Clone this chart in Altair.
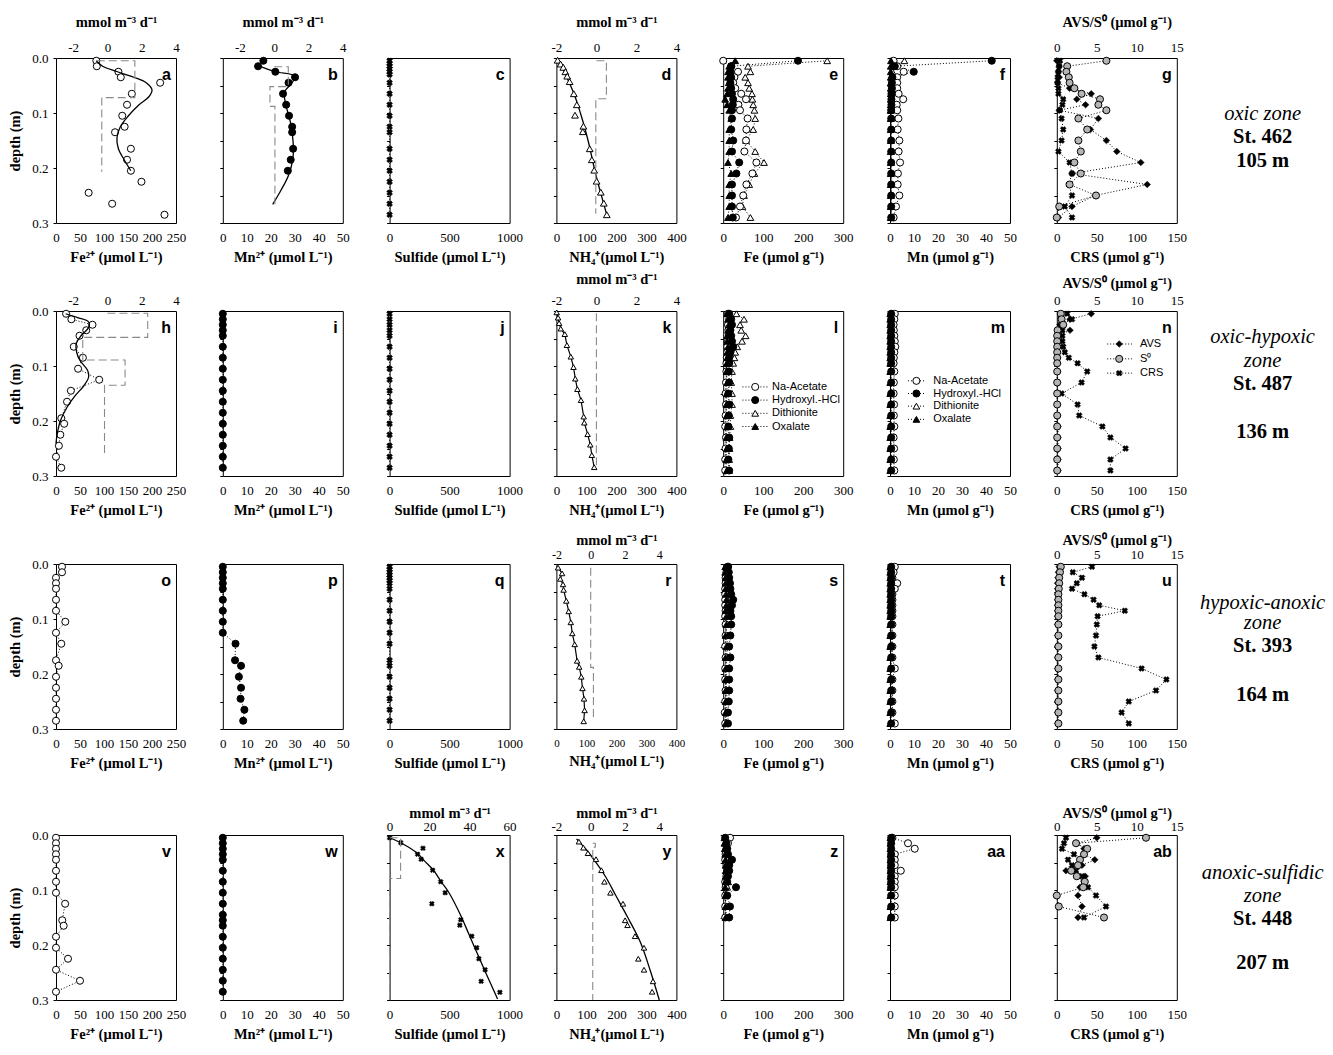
import altair as alt
import pandas as pd

SERIF = "Liberation Serif"
SANS = "Liberation Sans"

# ---------------- depth grids (m) ----------------
D17 = [0.005, 0.015, 0.025, 0.035, 0.045, 0.065, 0.085, 0.105, 0.125, 0.145, 0.165, 0.185, 0.205, 0.225, 0.245, 0.265, 0.285]
D20 = [0.005, 0.015, 0.025, 0.035, 0.045, 0.055, 0.065, 0.075, 0.085, 0.095, 0.11, 0.13, 0.15, 0.17, 0.19, 0.21, 0.23, 0.25, 0.27, 0.29]
D13 = [0.005, 0.015, 0.025, 0.035, 0.045, 0.055, 0.065, 0.075, 0.085, 0.095, 0.11, 0.13, 0.15]
SULF_D = [0.005, 0.01, 0.015, 0.02, 0.025, 0.03, 0.045, 0.065, 0.085, 0.105, 0.125, 0.135, 0.165, 0.185, 0.205, 0.225, 0.245, 0.265, 0.285]
SULF_D3 = [0.005, 0.01, 0.015, 0.02, 0.025, 0.03, 0.035, 0.045, 0.065, 0.085, 0.105, 0.125, 0.145, 0.175, 0.185, 0.205, 0.225, 0.245, 0.265, 0.285]

# ---------------- row 1 : St. 462 ----------------
A_D = [0.005, 0.015, 0.025, 0.035, 0.045, 0.065, 0.085, 0.105, 0.125, 0.135, 0.165, 0.185, 0.205, 0.225, 0.245, 0.265, 0.285]
A_FE2 = [84, 85, 130, 135, 217, 158, 148, 138, 143, 123, 156, 148, 156, 178, 68, 117, 226]
A_MOD_D = [0.005, 0.015, 0.025, 0.035, 0.045, 0.058, 0.07, 0.085, 0.105, 0.125, 0.145, 0.165, 0.185, 0.205]
A_MOD = [84, 97, 128, 162, 188, 200, 194, 173, 151, 134, 127, 130, 142, 156]
A_RATE_D = [0.005, 0.005, 0.072, 0.072, 0.207]
A_RATE = [-0.62, 1.6, 1.6, -0.33, -0.33]

B_D = [0.005, 0.015, 0.025, 0.035, 0.045, 0.065, 0.085, 0.105, 0.125, 0.135, 0.165, 0.185, 0.205]
B_MN2 = [16.9, 14.7, 21.9, 30.1, 27.4, 25.1, 26.4, 27.6, 28.9, 28.9, 29.3, 28.3, 27.1]
B_MOD_D = [0.014, 0.025, 0.033, 0.047, 0.062, 0.087, 0.117, 0.153, 0.183, 0.213, 0.24, 0.266]
B_MOD = [14.7, 21.9, 30.0, 28.5, 25.7, 26.4, 28.2, 29.3, 29.2, 27.4, 24.3, 20.8]
B_RATE_D = [0.016, 0.016, 0.052, 0.052, 0.088, 0.088, 0.266]
B_RATE = [0.0, 0.82, 0.82, -0.25, -0.25, 0.04, 0.04]

C_SULF = [0] * len(SULF_D)

D_D = [0.004, 0.011, 0.017, 0.025, 0.033, 0.043, 0.065, 0.085, 0.104, 0.124, 0.134, 0.165, 0.185, 0.204, 0.224, 0.244, 0.264, 0.285]
D_NH4 = [4, 14, 23, 30, 36, 44, 58, 68, 62, 90, 88, 111, 118, 126, 134, 148, 158, 168]
D_MOD_D = [0.002, 0.02, 0.045, 0.07, 0.1, 0.13, 0.16, 0.19, 0.22, 0.25, 0.285]
D_MOD = [2, 22, 43, 62, 80, 96, 110, 122, 135, 150, 168]
D_RATE_D = [0.005, 0.005, 0.074, 0.074, 0.283]
D_RATE = [0.0, 0.5, 0.5, -0.03, -0.03]

E_NAAC = [0, 20, 37, 28, 25, 30, 45, 57, 38, 42, 61, 58, 57, 53, 83, 73, 58, 50, 42, 32]
E_HH = [187, 20, 18, 20, 18, 20, 22, 25, 24, 22, 22, 20, 25, 22, 40, 33, 22, 22, 22, 24]
E_DITH = [260, 62, 68, 55, 62, 65, 72, 73, 75, 78, 80, 75, 57, 80, 102, 78, 65, 52, 48, 68]
E_OX = [30, 15, 12, 12, 14, 12, 10, 5, 10, 15, 20, 15, 15, 15, 12, 20, 15, 15, 15, 12]

F_NAAC = [1.5, 3.0, 5.7, 3.0, 3.0, 3.0, 3.6, 5.5, 2.8, 3.0, 3.5, 3.2, 3.9, 3.6, 4.2, 3.3, 3.2, 3.9, 2.5, 1.5]
F_HH = [42.4, 2.0, 9.9, 1.0, 0.8, 0.8, 0.6, 0.6, 0.6, 0.5, 0.5, 0.5, 0.5, 0.5, 0.5, 0.5, 0.5, 0.5, 0.5, 0.5]
F_DITH = [6.0, 1.2, 1.0, 0.8, 0.8, 0.7, 0.6, 0.6, 0.6, 0.5, 0.5, 0.5, 0.5, 0.5, 0.5, 0.5, 0.5, 0.5, 0.5, 0.5]
F_OX = [0.4, 0.3, 0.3, 0.3, 0.3, 0.3, 0.3, 0.3, 0.3, 0.3, 0.3, 0.3, 0.3, 0.3, 0.3, 0.3, 0.3, 0.3, 0.3, 0.3]

G_AVS = [0, 0.3, 0.2, 0.3, 0.1, 1.6, 4.3, 2.5, 3.6, 0.3, 5.2, 4.2, 6.2, 7.5, 10.5, 1.9, 11.3, 4.8, 1.9, 0.2]
G_S0 = [6.2, 1.3, 1.2, 1.5, 1.6, 2.2, 3.1, 5.4, 5.2, 6.2, 2.7, 3.8, 2.7, 3.0, 2.2, 3.0, 1.6, 4.9, 0.3, 0]
G_CRS = [4, 3, 2, 1, 1, 2, 2, 8, 7, 4, 6, 8, 6, 2, 16, 19, 15, 19, 10, 19]

# ---------------- row 2 : St. 487 ----------------
H_D = [0.005, 0.015, 0.025, 0.035, 0.045, 0.065, 0.085, 0.105, 0.125, 0.145, 0.165, 0.195, 0.205, 0.225, 0.245, 0.265, 0.285]
H_FE2 = [21, 32, 76, 63, 49, 37, 56, 46, 90, 31, 23, 11, 17, 9, 6, 0, 11]
H_MOD_D = [0.005, 0.012, 0.02, 0.03, 0.045, 0.06, 0.075, 0.09, 0.108, 0.12, 0.136, 0.154, 0.175, 0.2, 0.226, 0.241]
H_MOD = [20, 45, 68, 68, 52, 42, 43, 50, 66, 68, 58, 40, 23, 9, 2, 0]
H_RATE_D = [0.004, 0.004, 0.048, 0.048, 0.089, 0.089, 0.135, 0.135, 0.262]
H_RATE = [0.0, 2.35, 2.35, -1.44, -1.44, 1.03, 1.03, -0.17, -0.17]

I_MN2 = [0] * 17
J_SULF = [0] * 17

K_D = [0.0025, 0.012, 0.022, 0.032, 0.042, 0.062, 0.083, 0.102, 0.123, 0.142, 0.162, 0.192, 0.203, 0.224, 0.243, 0.262, 0.284]
K_NH4 = [1, 5.6, 9, 14.5, 28, 35, 48, 57, 63, 70, 82, 91, 93, 104, 113, 118, 126]
K_RATE_D = [0.004, 0.283]
K_RATE = [0.0, 0.0]

L_NAAC = [12, 15, 12, 13, 14, 12, 10, 10, 9, 8, 8, 7, 6, 7, 6, 5, 7, 6, 5, 5]
L_HH = [15, 20, 22, 18, 20, 22, 25, 18, 15, 15, 14, 15, 13, 15, 14, 13, 15, 14, 13, 15]
L_DITH = [33, 52, 42, 45, 56, 47, 35, 30, 28, 25, 22, 20, 22, 22, 18, 18, 16, 16, 15, 15]
L_OX = [10, 12, 14, 12, 10, 10, 12, 10, 10, 9, 8, 10, 9, 8, 9, 10, 8, 9, 8, 9]

M_NAAC = [2.0, 1.8, 1.5, 1.6, 1.8, 2.0, 2.2, 1.8, 1.6, 1.5, 1.8, 1.6, 1.5, 1.7, 1.6, 1.8, 1.5, 1.7, 1.6, 1.8]
M_HH = [0.5] * 20
M_DITH = [0.3] * 20
M_OX = [0.1] * 20

N_AVS = [4.3, 1.65, 0.4, 1.65, 0.2, 0.1, 0.1, 0.1, 0.1, 0.1, 0.1, 0.1, 0.1, 0.1, 0.1, 0.15, 0.15, 0.15, 0.15, 0.15]
N_S0 = [0.5, 0.6, 0.8, 0.1, 0.05, 0.05, 0.05, 0.05, 0.05, 0.05, 0.05, 0.05, 0.05, 0.05, 0.05, 0.05, 0.05, 0.05, 0.05, 0.05]
N_CRS = [13, 19, 5, 7, 7, 7, 8, 10, 15, 26, 38, 31, 6, 26, 28, 57, 67, 86, 67, 67]

# ---------------- row 3 : St. 393 ----------------
O_D = [0.005, 0.015, 0.025, 0.035, 0.045, 0.065, 0.085, 0.105, 0.125, 0.145, 0.175, 0.185, 0.205, 0.225, 0.245, 0.265, 0.285]
O_FE2 = [12.5, 12.5, 0, 0, 0, 0, 0, 19.4, 0, 11, 0, 5.5, 0, 0, 0, 0, 0]
P_MN2 = [0, 0, 0, 0, 0, 0, 0, 0, 0, 5.3, 5.1, 7.6, 6.7, 7.6, 7.4, 9.0, 8.5]
Q_SULF = [0] * len(SULF_D3)
R_D = [0.0066, 0.017, 0.027, 0.037, 0.047, 0.067, 0.086, 0.106, 0.126, 0.146, 0.176, 0.187, 0.205, 0.226, 0.245, 0.266, 0.286]
R_NH4 = [5.5, 19, 13, 22, 24, 33, 41, 48, 53, 61, 69, 76, 83, 87, 92, 94, 91]
R_RATE_D = [0.007, 0.188, 0.188, 0.283]
R_RATE = [0.0, 0.0, 0.16, 0.16]

S_NAAC = [12, 8, 6, 6, 5, 5, 5, 5, 6, 5, 6, 6, 5, 6, 5, 5, 6, 5, 4, 5]
S_HH = [12, 14, 15, 17, 18, 20, 25, 22, 18, 20, 20, 18, 15, 18, 15, 15, 15, 14, 12, 12]
S_DITH = [8, 6, 7, 8, 8, 8, 10, 10, 8, 10, 8, 8, 12, 8, 8, 8, 8, 10, 8, 8]
S_OX = [5, 5, 6, 6, 6, 7, 8, 8, 6, 8, 8, 6, 8, 6, 6, 6, 6, 6, 6, 6]

T_NAAC = [2, 1.5, 1, 3, 2, 1, 1, 1, 1, 1, 1, 1, 1, 1, 2, 1, 1, 1, 1, 2]
T_HH = [0.5] * 20
T_DITH = [0.3] * 20
T_OX = [0.1] * 20

U_AVS = [0.3, 0.2, 0.15, 0.1, 0.1, 0.1, 0.1, 0.1, 0.1, 0.1, 0.1, 0.1, 0.1, 0.1, 0.1, 0.1, 0.1, 0.1, 0.1, 0.1]
U_S0 = [0.5, 0.4, 0.3, 0.3, 0.25, 0.2, 0.2, 0.2, 0.2, 0.2, 0.2, 0.2, 0.2, 0.2, 0.2, 0.2, 0.2, 0.2, 0.2, 0.2]
U_CRS = [44, 20, 31.5, 25, 19, 34.5, 46, 53, 85, 51, 50, 49, 47, 52, 106, 137, 124, 90, 81, 90]

# ---------------- row 4 : St. 448 ----------------
V_D = [0.005, 0.015, 0.025, 0.035, 0.045, 0.065, 0.085, 0.105, 0.125, 0.155, 0.165, 0.185, 0.205, 0.225, 0.245, 0.265, 0.285]
V_FE2 = [0, 0, 0, 0, 0, 0, 0, 0, 19, 13, 16, 0, 0, 25, 0, 50, 0]
W_D = [0.005, 0.015, 0.025, 0.035, 0.045, 0.065, 0.085, 0.105, 0.125, 0.145, 0.155, 0.165, 0.185, 0.205, 0.225, 0.245, 0.265, 0.285]
W_MN2 = [0] * 18
X_D = [0.005, 0.014, 0.024, 0.035, 0.044, 0.064, 0.085, 0.105, 0.125, 0.154, 0.164, 0.184, 0.205, 0.225, 0.245, 0.266, 0.286]
X_SULF = [0, 93, 278, 233, 263, 359, 426, 463, 352, 593, 585, 685, 726, 744, 796, 763, 919]
X_MOD_D = [0.005, 0.015, 0.033, 0.047, 0.064, 0.085, 0.105, 0.145, 0.18, 0.215, 0.25, 0.298]
X_MOD = [0, 100, 230, 290, 365, 430, 495, 590, 660, 730, 800, 900]
X_RATE_D = [0.005, 0.005, 0.079, 0.079, 0.3]
X_RATE = [0, 5.5, 5.5, 0, 0]
Y_D = [0.012, 0.023, 0.033, 0.044, 0.064, 0.085, 0.105, 0.125, 0.155, 0.164, 0.184, 0.205, 0.225, 0.245, 0.266, 0.285]
Y_NH4 = [75, 90, 105, 132, 150, 160, 180, 222, 229, 237, 262, 292, 273, 292, 322, 319]
Y_MOD_D = [0.007, 0.025, 0.046, 0.075, 0.11, 0.15, 0.195, 0.245, 0.3]
Y_MOD = [67, 97, 127, 163, 198, 238, 280, 312, 343]
Y_RATE_D = [0.015, 0.015, 0.022, 0.022, 0.3]
Y_RATE = [0.12, 0.27, 0.27, 0.12, 0.12]

Z_NAAC = [17, 12, 8, 6, 5, 8, 10, 8, 5, 6, 5, 5, 5]
Z_HH = [5, 8, 10, 12, 22, 15, 15, 12, 10, 32, 10, 17, 15]
Z_DITH = [10, 8, 6, 6, 8, 10, 10, 8, 12, 10, 6, 6, 8]
Z_OX = [3, 3, 4, 5, 6, 6, 6, 6, 6, 5, 6, 6, 6]

AA_NAAC = [1, 7.5, 10.3, 2, 2, 2, 4.5, 2, 2, 2, 2, 2, 2]
AA_HH = [0.5] * 13
AA_DITH = [0.3] * 13
AA_OX = [0.2] * 13

AB_AVS = [5.0, 2.5, 3.4, 3.4, 4.75, 3.15, 1.15, 3.55, 3.4, 2.9, 2.65, 3.15, 2.65]
AB_S0 = [11.15, 2.4, 3.8, 3.4, 2.9, 2.65, 1.8, 2.5, 3.5, 3.3, 0, 0.25, 5.9]
AB_CRS = [11.5, 9, 6.5, 21.5, 14, 19, 24, 31.5, 34, 39, 49, 61.5, 34]

# ---------------- labels ----------------
T_FE2 = "Fe²⁺ (µmol L⁻¹)"
T_MN2 = "Mn²⁺ (µmol L⁻¹)"
T_SULF = "Sulfide (µmol L⁻¹)"
T_NH4 = "NH₄⁺(µmol L⁻¹)"
T_FE = "Fe (µmol g⁻¹)"
T_MN = "Mn (µmol g⁻¹)"
T_CRS = "CRS (µmol g⁻¹)"
T_RATE = "mmol m⁻³ d⁻¹"
T_AVS = "AVS/S⁰ (µmol g⁻¹)"
LEG_EXT = ["Na-Acetate", "Hydroxyl.-HCl", "Dithionite", "Oxalate"]
LEG_S = ["AVS", "S⁰", "CRS"]
ZONES = [["oxic zone"], ["oxic-hypoxic", "zone"], ["hypoxic-anoxic", "zone"], ["anoxic-sulfidic", "zone"]]
STATIONS = ["St. 462", "St. 487", "St. 393", "St. 448"]
WDEPTHS = ["105 m", "136 m", "164 m", "207 m"]

# ---------------- styles ----------------
STY = {
    "oc": dict(shape="circle", filled=True, fill="white", stroke="black", strokeWidth=1, size=50, opacity=1),
    "fc": dict(shape="circle", filled=True, fill="black", stroke="black", strokeWidth=1, size=50, opacity=1),
    "ot": dict(shape="triangle-up", filled=True, fill="white", stroke="black", strokeWidth=1, size=45, opacity=1),
    "ft": dict(shape="triangle-up", filled=True, fill="black", stroke="black", strokeWidth=1, size=45, opacity=1),
    "gc": dict(shape="circle", filled=True, fill="#b4b4b4", stroke="black", strokeWidth=1, size=50, opacity=1),
    "dm": dict(shape="diamond", filled=True, fill="black", stroke="black", strokeWidth=0.5, size=45, opacity=1),
    "x": dict(shape="cross", angle=45, filled=True, fill="black", stroke="black", strokeWidth=0.5, size=35, opacity=1),
    "xs": dict(shape="cross", angle=45, filled=True, fill="black", stroke="black", strokeWidth=0.5, size=25, opacity=1),
    "ots": dict(shape="triangle-up", filled=True, fill="white", stroke="black", strokeWidth=1, size=30, opacity=1),
}

W, H = 120, 165
YS = alt.Scale(domain=[0, 0.3], reverse=True, nice=False, zero=False)
LBL = "datum.value < 0 ? '-' + format(abs(datum.value), 'd') : format(datum.value, 'd')"


def y_enc(first):
    if first:
        ax = alt.Axis(values=[0, 0.1, 0.2, 0.3], format=".1f", title="depth (m)", tickSize=3,
                      labelPadding=5, titlePadding=9, domain=False, grid=False)
    else:
        ax = alt.Axis(values=[0, 0.05, 0.1, 0.15, 0.2, 0.25, 0.3], labels=False, title=None,
                      tickSize=3, domain=False, grid=False)
    return alt.Y("d:Q", scale=YS, axis=ax)


def x_axis(vals, title, orient, lsize=13, lpad=8, tpad=6):
    return alt.Axis(values=vals, title=title, orient=orient, ticks=False, labelPadding=lpad,
                    titlePadding=tpad, labelFlush=False, labelOverlap=False, domain=False,
                    grid=False, labelFontSize=lsize, labelExpr=LBL)


def mk(kind, depths, vals, style, xs, xa, ye):
    df = pd.DataFrame({"v": vals, "d": depths, "i": list(range(len(vals)))})
    x = alt.X("v:Q", scale=xs, axis=xa)
    base = alt.Chart(df)
    if kind == "pts":
        return base.mark_point(**STY[style]).encode(x=x, y=ye)
    if kind == "dot":
        return base.mark_line(color="black", strokeWidth=1, strokeDash=[1, 2]).encode(x=x, y=ye, order=alt.Order("i:Q"))
    if kind == "model":
        return base.mark_line(color="black", strokeWidth=1.3, interpolate="catmull-rom").encode(x=x, y=ye, order=alt.Order("i:Q"))
    if kind == "line":
        return base.mark_line(color="black", strokeWidth=1.2).encode(x=x, y=ye, order=alt.Order("i:Q"))
    if kind == "rate":
        return base.mark_line(color="#8a8a8a", strokeWidth=1.1, strokeDash=[8, 4]).encode(x=x, y=ye, order=alt.Order("i:Q"))
    raise ValueError(kind)


def ser(depths, vals, style, dotted=True):
    out = []
    if dotted:
        out.append(("dot", depths, vals, None))
    out.append(("pts", depths, vals, style))
    return out


def legend_layers(labels, styles, xl, xs_, xt, depths, xs, xa, ye):
    lays = []
    rows = []
    for k, dd in enumerate(depths):
        rows.append({"e": k, "v": xl[0], "d": dd})
        rows.append({"e": k, "v": xl[1], "d": dd})
    ldf = pd.DataFrame(rows)
    lays.append(alt.Chart(ldf).mark_line(color="black", strokeWidth=1, strokeDash=[1, 2]).encode(
        x=alt.X("v:Q", scale=xs, axis=xa), y=ye, detail="e:N"))
    for k, dd in enumerate(depths):
        pdf = pd.DataFrame({"v": [xs_], "d": [dd]})
        lays.append(alt.Chart(pdf).mark_point(**STY[styles[k]]).encode(x=alt.X("v:Q", scale=xs, axis=xa), y=ye))
    tdf = pd.DataFrame({"v": [xt] * len(labels), "d": depths, "t": labels})
    lays.append(alt.Chart(tdf).mark_text(align="left", baseline="middle", font=SANS, fontSize=11, color="black").encode(
        x=alt.X("v:Q", scale=xs, axis=xa), y=ye, text="t:N"))
    return lays


def panel(letter, xdom, xvals, xtitle, items, first=False, top=None, legend=None, blsize=13):
    xs = alt.Scale(domain=xdom, nice=False, zero=False)
    xa = x_axis(xvals, xtitle, "bottom", lsize=blsize)
    ye = y_enc(first)
    bottom = [mk(k, d, v, s, xs, xa, ye) for (k, d, v, s) in items]
    if legend is not None:
        bottom += legend_layers(*legend, xs=xs, xa=xa, ye=ye)
    ldf = pd.DataFrame({"v": [xdom[1]], "d": [0.0], "t": [letter]})
    bottom.append(alt.Chart(ldf).mark_text(align="right", baseline="middle", dx=-5, dy=17, font=SANS,
                                           fontWeight="bold", fontSize=16, color="black").encode(
        x=alt.X("v:Q", scale=xs, axis=xa), y=ye, text="t:N"))
    bgroup = alt.layer(*bottom)
    if top is None:
        return bgroup.properties(width=W, height=H)
    tdom, tvals, ttitle, titems, tpad, tlsize, tlpad = top
    ts = alt.Scale(domain=tdom, nice=False, zero=False)
    ta = x_axis(tvals, ttitle, "top", lsize=tlsize, lpad=tlpad, tpad=tpad)
    tgroup = alt.layer(*[mk(k, d, v, s, ts, ta, ye) for (k, d, v, s) in titems])
    return alt.layer(bgroup, tgroup).resolve_scale(x="independent").properties(width=W, height=H)


def solid_phase(letter, depths, na, hh, di, ox, xdom, xvals, xtitle, legend=None):
    items = []
    items += [("dot", depths, na, None), ("dot", depths, hh, None), ("dot", depths, di, None), ("dot", depths, ox, None)]
    items += [("pts", depths, di, "ot"), ("pts", depths, na, "oc"), ("pts", depths, ox, "ft"), ("pts", depths, hh, "fc")]
    return panel(letter, xdom, xvals, xtitle, items, legend=legend)


def zone_panel(k, h, offs):
    lines = ZONES[k] + [STATIONS[k], WDEPTHS[k]]
    kinds = ["z"] * len(ZONES[k]) + ["b", "b"]
    df = pd.DataFrame({"t": lines, "o": offs, "k": kinds})
    ys = alt.Scale(domain=[0, h], reverse=True, nice=False, zero=False)
    it = alt.Chart(df[df.k == "z"]).mark_text(font=SERIF, fontStyle="italic", fontSize=20.5, color="black",
                                              baseline="middle", align="center").encode(
        x=alt.value(39), y=alt.Y("o:Q", scale=ys, axis=None), text="t:N")
    bd = alt.Chart(df[df.k == "b"]).mark_text(font=SERIF, fontWeight="bold", fontSize=20.5, color="black",
                                              baseline="middle", align="center").encode(
        x=alt.value(39), y=alt.Y("o:Q", scale=ys, axis=None), text="t:N")
    return alt.layer(it, bd).properties(width=90, height=h, view=alt.ViewBackground(stroke="transparent"))


V250 = [0, 50, 100, 150, 200, 250]
V50 = [0, 10, 20, 30, 40, 50]
V1000 = [0, 500, 1000]
V400 = [0, 100, 200, 300, 400]
V300 = [0, 100, 200, 300]
V150 = [0, 50, 100, 150]
VR = [-2, 0, 2, 4]
V15 = [0, 5, 10, 15]

LEG_EXT_STY = ["oc", "fc", "ot", "ft"]
LEG_S_STY = ["dm", "gc", "x"]

cells = []
# ---- row 1 ----
cells.append(panel("a", [0, 250], V250, T_FE2, [("pts", A_D, A_FE2, "oc"), ("model", A_MOD_D, A_MOD, None)], first=True,
                   top=([-3, 4], VR, T_RATE, [("rate", A_RATE_D, A_RATE, None)], 12, 13, 4)))
cells.append(panel("b", [0, 50], V50, T_MN2, [("model", B_MOD_D, B_MOD, None), ("pts", B_D, B_MN2, "fc")],
                   top=([-3, 4], VR, T_RATE, [("rate", B_RATE_D, B_RATE, None)], 12, 13, 4)))
cells.append(panel("c", [0, 1000], V1000, T_SULF, ser(SULF_D, C_SULF, "x")))
cells.append(panel("d", [0, 400], V400, T_NH4, [("model", D_MOD_D, D_MOD, None), ("pts", D_D, D_NH4, "ot")],
                   top=([-2, 4], VR, T_RATE, [("rate", D_RATE_D, D_RATE, None)], 12, 13, 4)))
cells.append(solid_phase("e", D20, E_NAAC, E_HH, E_DITH, E_OX, [0, 300], V300, T_FE))
cells.append(solid_phase("f", D20, F_NAAC, F_HH, F_DITH, F_OX, [0, 50], V50, T_MN))
cells.append(panel("g", [0, 150], V150, T_CRS, ser(D20, G_CRS, "x"),
                   top=([0, 15], V15, T_AVS, ser(D20, G_AVS, "dm") + ser(D20, G_S0, "gc"), 12, 13, 4)))
cells.append(zone_panel(0, H, [56, 79, 103]))
# ---- row 2 ----
cells.append(panel("h", [0, 250], V250, T_FE2, ser(H_D, H_FE2, "oc") + [("model", H_MOD_D, H_MOD, None)], first=True,
                   top=([-3, 4], VR, None, [("rate", H_RATE_D, H_RATE, None)], 8, 13, 4)))
cells.append(panel("i", [0, 50], V50, T_MN2, ser(D17, I_MN2, "fc")))
cells.append(panel("j", [0, 1000], V1000, T_SULF, ser(D17, J_SULF, "x")))
cells.append(panel("k", [0, 400], V400, T_NH4, [("line", K_D, K_NH4, None), ("pts", K_D, K_NH4, "ots")],
                   top=([-2, 4], VR, T_RATE, [("rate", K_RATE_D, K_RATE, None)], 8, 13, 4)))
cells.append(solid_phase("l", D20, L_NAAC, L_HH, L_DITH, L_OX, [0, 300], V300, T_FE,
                         legend=(LEG_EXT, LEG_EXT_STY, (48, 115), 80, 122, [0.138, 0.162, 0.186, 0.21])))
cells.append(solid_phase("m", D20, M_NAAC, M_HH, M_DITH, M_OX, [0, 50], V50, T_MN,
                         legend=(LEG_EXT, LEG_EXT_STY, (7.5, 14.6), 11, 18, [0.127, 0.15, 0.173, 0.197])))
cells.append(panel("n", [0, 150], V150, T_CRS, ser(D20, N_CRS, "x"),
                   top=([0, 15], V15, T_AVS, ser(D20, N_AVS, "dm") + ser(D20, N_S0, "gc"), 4, 13, 4),
                   legend=(LEG_S, LEG_S_STY, (63, 94), 78, 104, [0.06, 0.087, 0.113])))
cells.append(zone_panel(1, H, [26, 50, 73, 121]))
# ---- row 3 ----
cells.append(panel("o", [0, 250], V250, T_FE2, ser(O_D, O_FE2, "oc"), first=True))
cells.append(panel("p", [0, 50], V50, T_MN2, ser(O_D, P_MN2, "fc")))
cells.append(panel("q", [0, 1000], V1000, T_SULF, ser(SULF_D3, Q_SULF, "x")))
cells.append(panel("r", [0, 400], V400, T_NH4, [("line", R_D, R_NH4, None), ("pts", R_D, R_NH4, "ots")], blsize=11,
                   top=([-2, 5], VR, T_RATE, [("rate", R_RATE_D, R_RATE, None)], 1, 12, 3)))
cells.append(solid_phase("s", D20, S_NAAC, S_HH, S_DITH, S_OX, [0, 300], V300, T_FE))
cells.append(solid_phase("t", D20, T_NAAC, T_HH, T_DITH, T_OX, [0, 50], V50, T_MN))
cells.append(panel("u", [0, 150], V150, T_CRS, ser(D20, U_CRS, "x"),
                   top=([0, 15], V15, T_AVS, ser(D20, U_AVS, "dm") + ser(D20, U_S0, "gc"), 1, 13, 3)))
cells.append(zone_panel(2, H + 18, [39, 59, 82, 131]))
# ---- row 4 ----
cells.append(panel("v", [0, 250], V250, T_FE2, ser(V_D, V_FE2, "oc"), first=True))
cells.append(panel("w", [0, 50], V50, T_MN2, ser(W_D, W_MN2, "fc")))
cells.append(panel("x", [0, 1000], V1000, T_SULF, [("model", X_MOD_D, X_MOD, None), ("pts", X_D, X_SULF, "xs")],
                   top=([0, 60], [0, 20, 40, 60], T_RATE, [("rate", X_RATE_D, X_RATE, None)], 0, 13, 2)))
cells.append(panel("y", [0, 400], V400, T_NH4, [("model", Y_MOD_D, Y_MOD, None), ("pts", Y_D, Y_NH4, "ots")],
                   top=([-2, 5], VR, T_RATE, [("rate", Y_RATE_D, Y_RATE, None)], 0, 13, 2)))
cells.append(solid_phase("z", D13, Z_NAAC, Z_HH, Z_DITH, Z_OX, [0, 300], V300, T_FE))
cells.append(solid_phase("aa", D13, AA_NAAC, AA_HH, AA_DITH, AA_OX, [0, 50], V50, T_MN))
cells.append(panel("ab", [0, 150], V150, T_CRS, ser(D13, AB_CRS, "x"),
                   top=([0, 15], V15, T_AVS, ser(D13, AB_AVS, "dm") + ser(D13, AB_S0, "gc"), 0, 13, 2)))
cells.append(zone_panel(3, H, [38, 61, 84, 128]))

chart = alt.concat(*cells, columns=8, spacing={"row": 88, "column": 46.8}, bounds="flush", align="each").properties(
    padding={"left": 7, "top": 13, "right": 5, "bottom": 5}, background="white"
).configure_view(stroke="black", strokeWidth=1).configure_axis(
    labelFont=SERIF, titleFont=SERIF, labelFontSize=13, titleFontSize=14.5, titleFontWeight="bold",
    labelColor="black", titleColor="black", tickColor="black", tickWidth=1
)

chart.save("out.html", embed_options={"renderer": "svg", "actions": False})
